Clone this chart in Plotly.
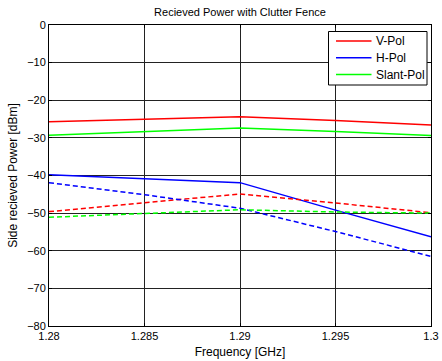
import plotly.graph_objects as go

# Frequency sweep [GHz]
freq = [1.28, 1.285, 1.29, 1.295, 1.3]

# Side received power [dBm], solid = co-pol, dashed = cross-pol
v_pol = [-25.7, -25.0, -24.4, -25.4, -26.6]
h_pol = [-39.8, -40.9, -41.9, -49.2, -56.3]
slant_pol = [-29.3, -28.4, -27.4, -28.3, -29.4]

v_pol_x = [-49.6, -47.3, -44.9, -47.3, -49.9]
h_pol_x = [-41.9, -45.1, -48.7, -54.9, -61.5]
slant_pol_x = [-51.1, -50.0, -49.1, -49.7, -50.0]

series_names = ["V-Pol", "H-Pol", "Slant-Pol"]

x_ticks = [1.28, 1.285, 1.29, 1.295, 1.3]
x_tick_text = ["1.28", "1.285", "1.29", "1.295", "1.3"]
y_ticks = [0, -10, -20, -30, -40, -50, -60, -70, -80]

RED = "#ff0000"
BLUE = "#0000ff"
GREEN = "#00ff00"
colors = [RED, BLUE, GREEN]

W, H = 442, 361
L, R, T, B = 49, 11, 25, 35
PW, PH = W - L - R, H - T - B


def px_x(px):
    return (px - L) / PW


def px_y(py):
    return (H - B - py) / PH


fig = go.Figure()
for name, ys, col in zip(series_names, [v_pol, h_pol, slant_pol], colors):
    fig.add_trace(go.Scatter(x=freq, y=ys, mode="lines", name=name,
                             line=dict(color=col, width=1.5)))
for name, ys, col in zip(series_names, [v_pol_x, h_pol_x, slant_pol_x], colors):
    fig.add_trace(go.Scatter(x=freq, y=ys, mode="lines", name=name + " (x)",
                             line=dict(color=col, width=1.5, dash="5px,3px")))

axis_common = dict(
    showgrid=True, gridcolor="#222222", gridwidth=1,
    showline=True, linecolor="black", linewidth=1, mirror="ticks",
    ticks="inside", ticklen=3, tickcolor="black", automargin=False,
    zeroline=False, tickfont=dict(family="Liberation Sans, Arial", size=11, color="black"),
)

# Boxed legend in the upper-right corner
shapes = [dict(type="rect", xref="paper", yref="paper",
               x0=px_x(328.5), x1=px_x(427), y0=px_y(85), y1=px_y(31.5),
               line=dict(color="black", width=1), fillcolor="white", layer="above")]
annotations = []
for i, (name, col) in enumerate(zip(series_names, colors)):
    yy = 41 + i * 16.8
    shapes.append(dict(type="line", xref="paper", yref="paper",
                       x0=px_x(336), x1=px_x(371.5), y0=px_y(yy), y1=px_y(yy),
                       line=dict(color=col, width=1.5), layer="above"))
    annotations.append(dict(xref="paper", yref="paper", x=px_x(373.5), y=px_y(yy),
                            xanchor="left", yanchor="middle", showarrow=False,
                            text=name, font=dict(size=12, color="black")))

fig.update_layout(
    width=W, height=H,
    margin=dict(l=L, r=R, t=T, b=B),
    paper_bgcolor="white", plot_bgcolor="white",
    font=dict(family="Liberation Sans, Arial", size=11, color="black"),
    title=dict(text="Recieved Power with Clutter Fence", x=0.5, xanchor="center",
               xref="paper", y=1 - 12 / H, yanchor="middle", font=dict(size=11)),
    xaxis=dict(range=[1.28, 1.3], tickvals=x_ticks, ticktext=x_tick_text,
               title=dict(text="Frequency [GHz]", standoff=6, font=dict(size=12)),
               **axis_common),
    yaxis=dict(range=[-80, 0], tickvals=y_ticks,
               title=dict(text="Side recieved Power [dBm]", standoff=6, font=dict(size=12)),
               **axis_common),
    shapes=shapes,
    annotations=annotations,
    showlegend=False,
)

fig.write_html("out.html")
